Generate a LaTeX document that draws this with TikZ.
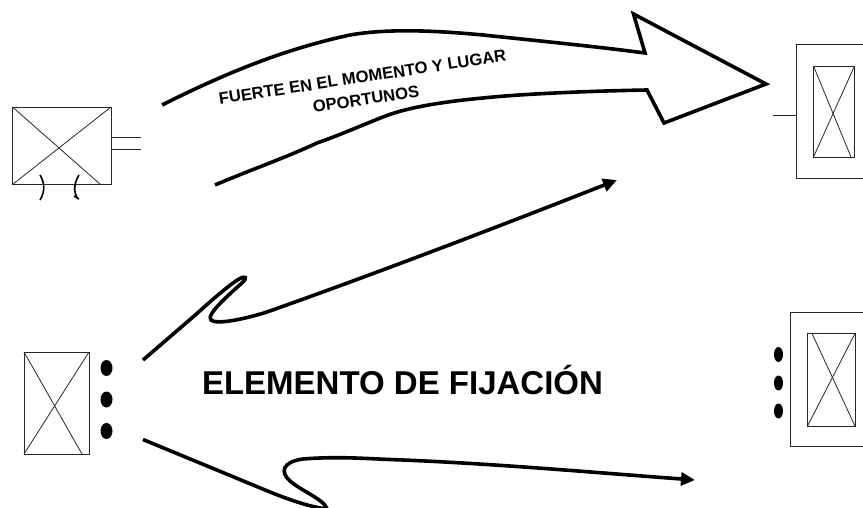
\documentclass[tikz,border=0pt]{standalone}
\usepackage{fontspec}
\setmainfont{Liberation Sans}
\usetikzlibrary{arrows.meta}
\tikzset{
  thin box/.style={draw=black!85,line width=0.8pt},
  stroke/.style={draw=black,line width=3.6pt,line join=miter},
  dot/.style={fill=black,draw=none},
  small label/.style={font=\bfseries\fontsize{16.6}{19}\selectfont,inner sep=0pt,align=center,rotate=8.6},
  arrowline/.style={draw=black,line width=3.6pt,-{Triangle[length=14pt,width=13pt]}}
}
\begin{document}
\begin{tikzpicture}[x=1pt,y=-1pt]
\useasboundingbox (0,0) rectangle (863,508);
\clip (0,0) rectangle (863,508);
% top-left box
\draw[thin box] (12.5,107) rectangle (111,184.5);
\draw[thin box] (12.5,107) -- (100.5,184.5);
\draw[thin box] (12.5,184.5) -- (111,107);
\draw[thin box] (111,137.5) -- (140.5,137.5);
\draw[thin box] (111,149) -- (140.5,149);
\draw[draw=black,line width=1.6pt] (40,175) .. controls (45,183) and (45,192) .. (40,200);
\draw[draw=black,line width=1.6pt] (79,175) .. controls (74,183) and (73,192) .. (78,199);
\draw[draw=black,line width=1.6pt] (74,196) -- (79,199);
% big arrow
\draw[stroke] (162,105) .. controls (220,76) and (280,50) .. (350,35)
  .. controls (390,28) and (440,31) .. (483,35)
  .. controls (540,41) and (600,47) .. (645,53)
  -- (633.5,14) -- (766,84) -- (664,123) -- (647,90)
  .. controls (590,91) and (520,94) .. (483,98)
  .. controls (440,102) and (405,108) .. (383,117)
  .. controls (360,126) and (340,135) .. (317,143)
  .. controls (285,158) and (250,170) .. (215,185);
\node[small label] (t1) at (362.5,77) {FUERTE EN EL MOMENTO Y LUGAR};
\node[small label] (t2) at (366,99) {OPORTUNOS};
% top-right box
\draw[thin box] (863,44.5) -- (796,44.5) -- (796,178.5) -- (863,178.5);
\draw[thin box] (813.5,66) rectangle (854.5,157);
\draw[thin box] (813.5,66) -- (851,157);
\draw[thin box] (813.5,157) -- (854.5,66);
\draw[thin box] (772.5,115) -- (796,115);
% upper long arrow
\draw[arrowline] (143,360) -- (193,317) .. controls (212,300) and (230,284) .. (240,278.5)
  .. controls (246,275.5) and (247,278) .. (243,282)
  .. controls (232,292) and (205,315) .. (211,320)
  .. controls (216,325) and (245,319) .. (267,312)
  .. controls (380,272) and (500,226) .. (617,180);
% bottom-left box
\draw[thin box] (24,352) rectangle (89,454);
\draw[thin box] (24,352) -- (82,454);
\draw[thin box] (24,454) -- (89,352);
\fill[dot] (106.5,368) ellipse [x radius=6,y radius=8];
\fill[dot] (106.5,399.5) ellipse [x radius=6,y radius=8];
\fill[dot] (106.5,431) ellipse [x radius=6,y radius=8];
\node[font=\bfseries\fontsize{33}{38}\selectfont,inner sep=0pt] (title) at (402.5,380) {ELEMENTO DE FIJACIÓN};
% lower long arrow
\draw[arrowline] (143,439.5) -- (270,492) .. controls (290,500) and (310,507) .. (327,509)
  .. controls (325,500) and (300,490) .. (290,481)
  .. controls (280,472) and (282,462) .. (303,459)
  .. controls (340,456) and (370,459) .. (403,460)
  .. controls (500,464) and (600,473) .. (695,480);
% bottom-right box
\draw[thin box] (863,312.5) -- (790,312.5) -- (790,446) -- (863,446);
\draw[thin box] (807.5,333.5) rectangle (855,426);
\draw[thin box] (812,333.5) -- (855,426);
\draw[thin box] (807.5,426) -- (855,333.5);
\fill[dot] (778.5,354.5) ellipse [x radius=4.5,y radius=7.5];
\fill[dot] (778.5,383) ellipse [x radius=4.5,y radius=7.5];
\fill[dot] (778.5,411) ellipse [x radius=4.5,y radius=7.5];
\end{tikzpicture}
\end{document}
